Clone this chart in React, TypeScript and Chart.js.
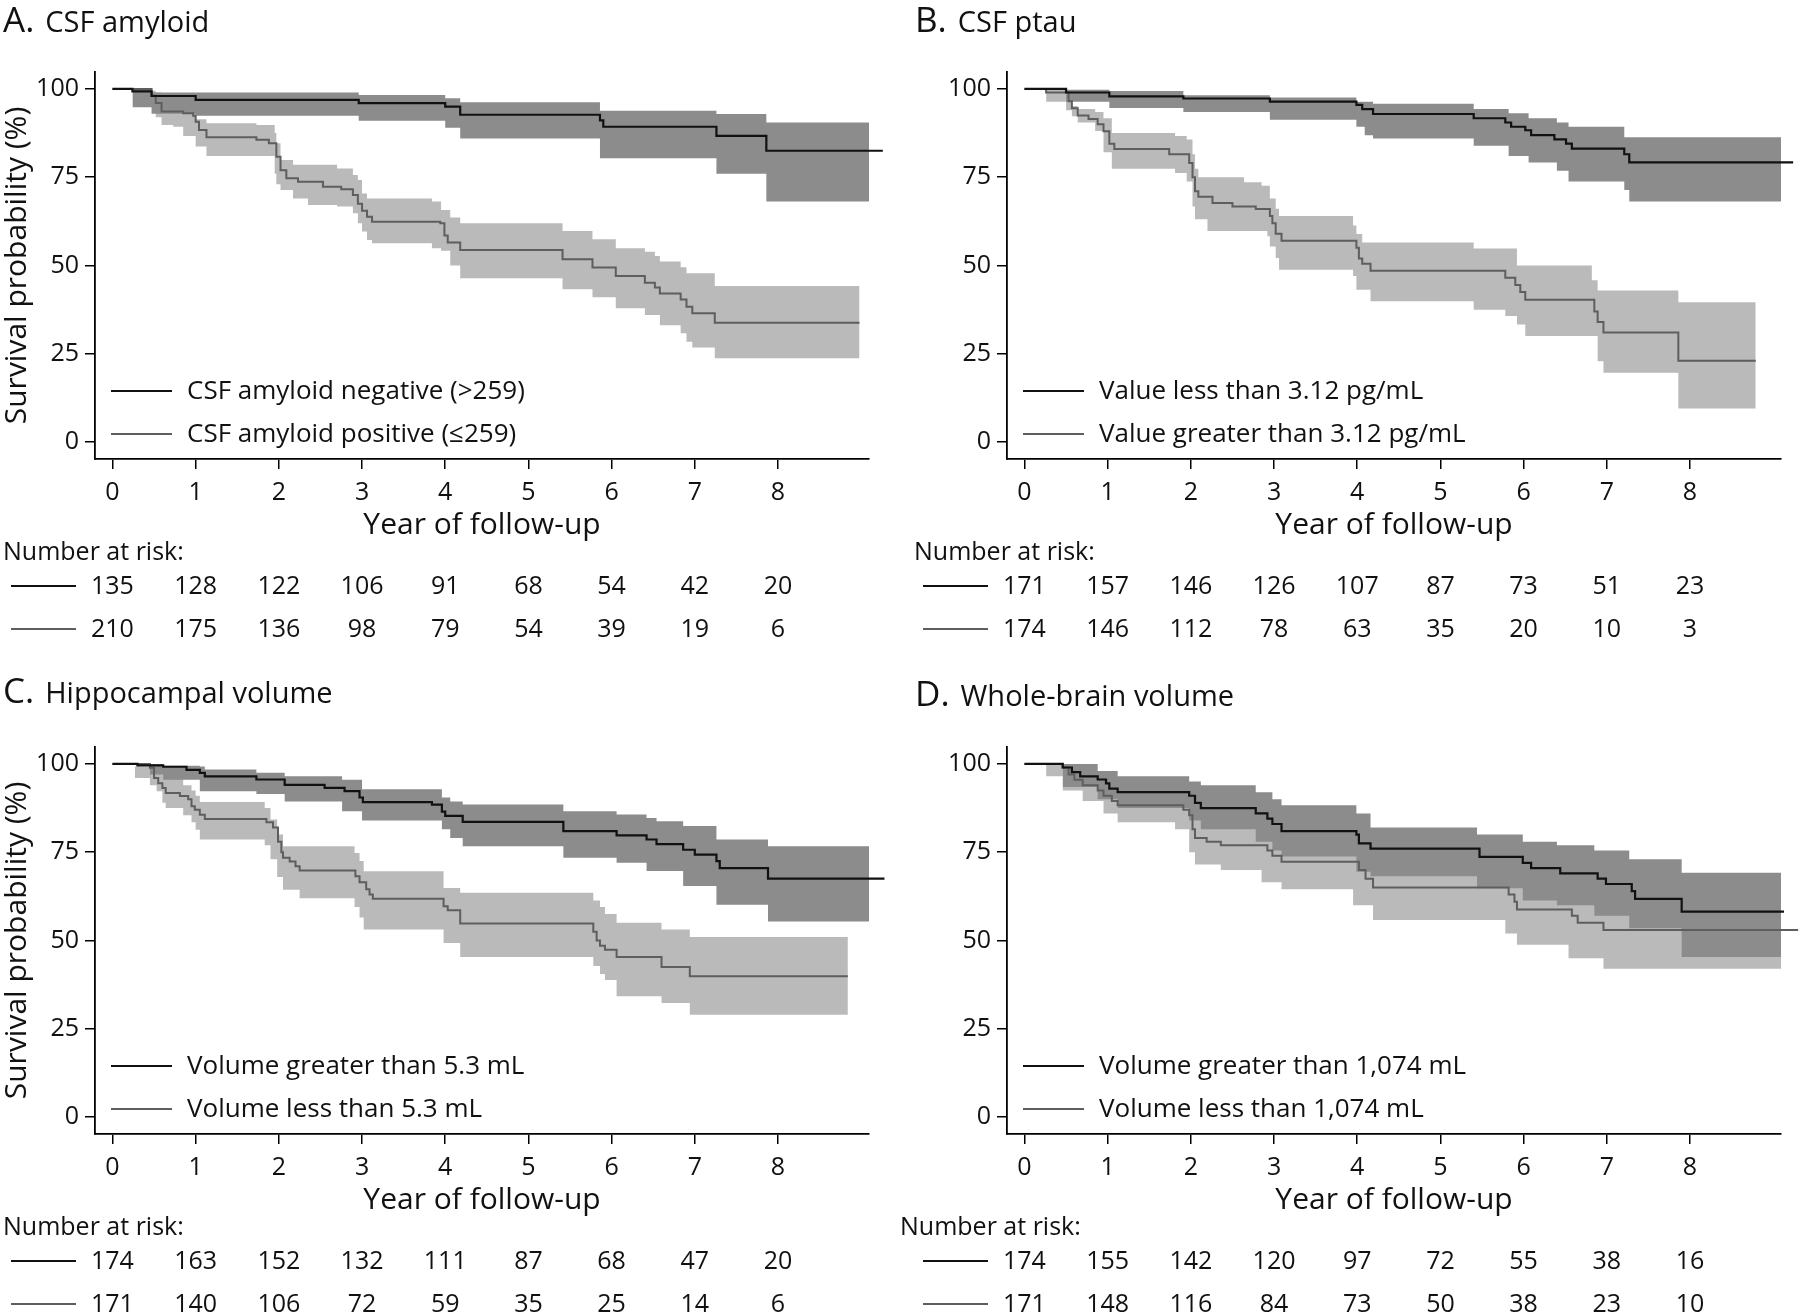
import React, { useEffect, useRef } from "react";
import { Chart, registerables } from "chart.js";
Chart.register(...registerables);

const FONT = "'Open Sans', 'Noto Sans', sans-serif";

const X_TICKS = [0, 1, 2, 3, 4, 5, 6, 7, 8];
const Y_TICKS = [0, 25, 50, 75, 100];

// ---------- Panel A: CSF amyloid ----------
const A_DARK_LINE = [[0,100],[0.24,99.3],[0.47,98.0],[1.0,96.9],[2.96,96.0],[4.0,95.0],[4.18,92.7],[5.86,91.1],[5.9,89.3],[7.26,86.7],[7.86,82.5],[9.26,82.5]];
const A_DARK_BAND = [[0.24,94.8,100],[0.47,93.0,99.0],[1.0,92.4,99.0],[2.96,91.0,98.3],[4.0,89.0,97.4],[4.18,86.0,96.2],[5.86,80.4,93.8],[7.26,76.0,92.9],[7.86,68.1,90.5],[9.26,68.1,90.5]];
const A_LIGHT_LINE = [[0,100],[0.47,98.1],[0.52,96.0],[0.59,93.6],[0.85,93.1],[0.97,92.4],[1.0,90.7],[1.04,88.4],[1.13,86.3],[1.73,85.6],[1.88,84.6],[1.97,80.8],[2.02,77.0],[2.09,74.7],[2.23,73.7],[2.53,72.3],[2.75,71.6],[2.89,70.0],[2.95,67.5],[3.0,65.5],[3.06,63.8],[3.12,62.4],[3.94,62.0],[3.99,58.5],[4.03,56.5],[4.18,54.4],[5.41,51.8],[5.77,49.4],[6.05,47.0],[6.4,45.1],[6.52,43.8],[6.58,42.1],[6.83,40.4],[6.9,38.3],[6.97,36.5],[7.24,33.8],[8.98,33.8]];
const A_LIGHT_BAND = [[0.47,94.5,99.5],[0.52,92.0,99.0],[0.59,89.8,97.5],[0.73,89.3,97.0],[0.85,86.7,96.5],[1.0,83.7,91.4],[1.13,81.0,90.3],[1.73,81.0,89.8],[1.95,76.0,87.5],[1.97,73.0,84.6],[2.02,71.4,79.9],[2.17,69.0,78.5],[2.35,67.1,78.5],[2.7,66.7,77.5],[2.89,64.8,75.6],[2.95,62.0,74.2],[3.0,59.6,70.4],[3.06,57.2,69.0],[3.12,56.3,69.0],[3.84,54.9,68.1],[3.95,54.2,65.7],[4.06,50.0,63.6],[4.18,46.4,62.0],[5.41,43.3,59.8],[5.77,41.0,57.4],[6.05,37.9,54.9],[6.4,36.0,53.9],[6.52,36.0,52.7],[6.58,33.1,51.1],[6.83,30.8,49.5],[6.9,28.4,47.8],[6.97,26.8,47.8],[7.24,23.7,44.2],[8.98,23.7,44.2]];
const A_RISK_DARK = [135, 128, 122, 106, 91, 68, 54, 42, 20];
const A_RISK_LIGHT = [210, 175, 136, 98, 79, 54, 39, 19, 6];

// ---------- Panel B: CSF ptau ----------
const B_DARK_LINE = [[0,100],[0.5,99.0],[1.02,97.9],[1.91,97.3],[2.95,96.4],[3.99,95.5],[4.06,94.3],[4.19,92.9],[5.4,91.7],[5.78,90.5],[5.85,89.3],[6.02,88.3],[6.09,86.9],[6.37,85.7],[6.51,84.5],[6.58,83.1],[7.21,81.5],[7.27,79.2],[9.24,79.2]];
const B_DARK_BAND = [[0.5,96.4,99.8],[1.02,94.6,99.4],[1.91,93.5,98.2],[2.95,91.3,97.6],[3.99,89.3,96.4],[4.09,86.9,96.4],[4.19,86.0,95.8],[5.4,83.9,94.3],[5.82,81.0,93.1],[6.06,79.2,91.7],[6.4,76.8,90.5],[6.54,73.8,89.3],[7.21,71.4,86.3],[7.27,68.1,86.3],[9.24,68.1,86.3]];
const B_LIGHT_LINE = [[0,100],[0.26,99.0],[0.53,96.5],[0.57,94.5],[0.64,92.5],[0.77,91.5],[0.88,90.0],[0.95,88.0],[1.02,84.5],[1.08,83.0],[1.74,81.5],[1.98,79.0],[2.02,75.0],[2.05,71.0],[2.09,69.5],[2.26,67.7],[2.5,66.7],[2.78,66.0],[2.95,64.0],[2.98,62.0],[3.02,59.0],[3.09,57.0],[3.99,55.0],[4.02,52.0],[4.06,50.5],[4.16,48.5],[5.78,46.5],[5.9,44.5],[5.96,42.5],[6.02,40.3],[6.85,37.0],[6.89,34.0],[6.96,31.0],[7.86,23.0],[8.79,23.0]];
const B_LIGHT_BAND = [[0.26,96.4,100],[0.5,94.0,98.2],[0.57,92.3,95.2],[0.64,90.5,94.3],[0.85,88.1,93.5],[0.95,82.1,91.7],[1.05,77.4,87.5],[1.81,76.2,86.7],[1.95,73.8,85.7],[2.02,66.7,81.5],[2.05,63.1,77.4],[2.09,63.1,75.0],[2.2,59.8,75.0],[2.64,59.8,73.6],[2.85,59.8,72.6],[2.92,58.3,72.6],[2.95,55.4,69.0],[3.02,52.1,66.1],[3.06,48.8,64.0],[3.95,47.0,61.3],[3.99,43.1,58.9],[4.06,43.1,56.5],[4.16,39.9,56.5],[5.4,37.5,54.8],[5.78,35.7,54.8],[5.92,33.3,50.0],[6.02,30.0,50.0],[6.82,30.0,45.8],[6.89,22.9,42.9],[6.96,19.6,42.9],[7.86,9.5,39.6],[8.79,9.5,39.6]];
const B_RISK_DARK = [171, 157, 146, 126, 107, 87, 73, 51, 23];
const B_RISK_LIGHT = [174, 146, 112, 78, 63, 35, 20, 10, 3];

// ---------- Panel C: Hippocampal volume ----------
const C_DARK_LINE = [[0,100],[0.3,99.6],[0.61,99.2],[0.89,98.3],[1.05,97.5],[1.11,96.5],[1.73,95.6],[2.07,94.1],[2.55,93.2],[2.79,92.3],[2.97,90.5],[3.01,89.2],[3.84,88.5],[3.96,86.5],[4.0,85.3],[4.21,83.6],[5.42,81.0],[6.06,79.8],[6.42,78.6],[6.54,77.3],[6.86,75.7],[7.0,74.3],[7.26,72.5],[7.3,70.5],[7.88,67.5],[9.28,67.5]];
const C_DARK_BAND = [[0.45,97.0,100],[0.61,95.5,99.5],[1.05,92.3,99.3],[1.11,92.3,98.4],[1.73,91.5,97.5],[2.07,89.4,96.5],[2.76,86.6,95.5],[3.0,84.0,92.8],[3.96,81.5,90.5],[4.06,79.0,89.4],[4.21,76.7,88.5],[5.42,73.4,86.6],[6.06,72.0,85.7],[6.42,69.7,84.7],[6.54,69.7,83.8],[6.86,65.4,82.4],[7.26,60.1,78.6],[7.88,55.4,76.7],[9.28,55.4,76.7]];
const C_LIGHT_LINE = [[0,100],[0.45,98.9],[0.5,96.0],[0.55,94.5],[0.6,93.2],[0.64,91.8],[0.81,90.9],[0.91,90.0],[0.95,88.0],[0.99,87.0],[1.05,85.6],[1.11,84.4],[1.85,83.5],[1.93,82.0],[1.99,78.0],[2.03,75.0],[2.05,73.4],[2.13,72.4],[2.2,71.0],[2.25,69.8],[2.92,68.2],[2.97,66.5],[3.05,64.5],[3.09,63.0],[3.13,61.8],[3.98,59.7],[4.03,58.6],[4.18,54.8],[5.78,52.5],[5.82,50.0],[5.86,48.5],[5.92,47.4],[6.06,45.3],[6.6,42.5],[6.94,39.9],[8.84,39.9]];
const C_LIGHT_BAND = [[0.27,96.0,99.3],[0.45,94.0,99.0],[0.53,92.3,98.5],[0.6,89.0,97.0],[0.64,87.5,96.0],[0.85,85.5,94.0],[0.95,83.5,92.5],[1.0,81.4,91.0],[1.05,78.6,89.2],[1.83,77.0,87.5],[1.9,73.0,84.3],[1.98,68.0,80.0],[2.05,64.4,76.7],[2.25,62.0,76.7],[2.91,59.5,74.8],[2.97,56.5,72.5],[3.02,53.1,69.6],[3.98,49.3,64.9],[4.18,45.3,63.5],[5.78,42.8,61.3],[5.86,40.5,59.5],[5.92,38.8,57.5],[6.06,34.2,55.0],[6.6,32.3,53.1],[6.94,29.0,51.0],[8.84,29.0,51.0]];
const C_RISK_DARK = [174, 163, 152, 132, 111, 87, 68, 47, 20];
const C_RISK_LIGHT = [171, 140, 106, 72, 59, 35, 25, 14, 6];

// ---------- Panel D: Whole-brain volume ----------
const D_DARK_LINE = [[0,100],[0.46,99.0],[0.57,97.7],[0.67,96.5],[0.88,95.6],[0.98,94.5],[1.02,93.0],[1.12,92.0],[1.98,91.0],[2.05,89.0],[2.12,87.5],[2.78,86.0],[2.92,84.5],[2.98,83.0],[3.09,81.0],[3.99,80.0],[4.02,77.5],[4.16,76.0],[5.47,73.7],[5.99,72.0],[6.09,70.5],[6.44,69.0],[6.89,67.5],[6.99,66.0],[7.3,64.0],[7.34,61.8],[7.9,58.2],[9.13,58.2]];
const D_DARK_BAND = [[0.46,93.5,100],[0.88,90.0,98.0],[1.12,87.5,96.5],[1.98,84.0,95.0],[2.12,81.5,94.0],[2.78,78.0,92.0],[2.98,75.5,90.0],[3.09,73.8,88.3],[3.99,69.5,86.0],[4.16,68.2,82.0],[5.44,64.8,80.0],[5.99,61.3,78.0],[6.4,60.0,77.0],[6.85,57.0,75.5],[7.27,53.5,73.0],[7.9,45.3,69.2],[9.13,45.3,69.2]];
const D_LIGHT_LINE = [[0,100],[0.46,99.0],[0.53,97.0],[0.6,95.5],[0.7,94.0],[0.88,92.5],[0.95,91.0],[1.05,89.5],[1.12,88.3],[1.91,87.0],[1.98,85.5],[2.02,81.5],[2.05,79.0],[2.19,78.0],[2.36,77.0],[2.92,75.5],[2.98,74.0],[3.09,72.3],[4.02,70.0],[4.1,67.5],[4.19,65.0],[5.82,63.0],[5.89,61.0],[5.92,58.8],[6.58,57.0],[6.65,55.0],[6.96,53.0],[9.3,53.0]];
const D_LIGHT_BAND = [[0.26,96.5,100],[0.46,92.5,99.5],[0.7,89.5,98.0],[0.95,86.0,96.0],[1.12,83.5,94.0],[1.81,81.5,92.5],[1.98,75.0,88.0],[2.05,71.5,85.5],[2.36,70.0,84.0],[2.85,66.5,81.0],[3.09,64.5,79.5],[3.95,60.0,77.0],[4.19,55.8,74.0],[5.78,52.0,72.0],[5.92,48.8,69.0],[6.54,45.0,67.0],[6.96,42.0,62.5],[9.3,42.0,62.5]];
const D_RISK_DARK = [174, 155, 142, 120, 97, 72, 55, 38, 16];
const D_RISK_LIGHT = [171, 148, 116, 84, 73, 50, 38, 23, 10];

const DARK_LINE_COLOR = "#111111";
const LIGHT_LINE_COLOR = "#5e5e5e";
const DARK_BAND_COLOR = "rgb(140,140,140)";
const LIGHT_BAND_COLOR = "rgb(186,186,186)";

type PanelDef = {
  letter: string;
  title: string;
  legend: string[];
  yTitle: boolean;
  left: number;
  top: number;
  width: number;
  height: number;
  dx: number;
  riskX: number;
  titleDy: number;
  darkLine: number[][];
  darkBand: number[][];
  lightLine: number[][];
  lightBand: number[][];
  riskDark: number[];
  riskLight: number[];
};

const PANELS: PanelDef[] = [
  {
    letter: "A.", title: "CSF amyloid",
    legend: ["CSF amyloid negative (>259)", "CSF amyloid positive (\u2264259)"],
    yTitle: true, left: 0, top: 0, width: 890, height: 675, dx: 0, riskX: 3, titleDy: 0,
    darkLine: A_DARK_LINE, darkBand: A_DARK_BAND, lightLine: A_LIGHT_LINE, lightBand: A_LIGHT_BAND,
    riskDark: A_RISK_DARK, riskLight: A_RISK_LIGHT,
  },
  {
    letter: "B.", title: "CSF ptau",
    legend: ["Value less than 3.12 pg/mL", "Value greater than 3.12 pg/mL"],
    yTitle: false, left: 890, top: 0, width: 910, height: 675, dx: 22, riskX: 24, titleDy: 0,
    darkLine: B_DARK_LINE, darkBand: B_DARK_BAND, lightLine: B_LIGHT_LINE, lightBand: B_LIGHT_BAND,
    riskDark: B_RISK_DARK, riskLight: B_RISK_LIGHT,
  },
  {
    letter: "C.", title: "Hippocampal volume",
    legend: ["Volume greater than 5.3 mL", "Volume less than 5.3 mL"],
    yTitle: true, left: 0, top: 675, width: 890, height: 638, dx: 0, riskX: 3, titleDy: -4,
    darkLine: C_DARK_LINE, darkBand: C_DARK_BAND, lightLine: C_LIGHT_LINE, lightBand: C_LIGHT_BAND,
    riskDark: C_RISK_DARK, riskLight: C_RISK_LIGHT,
  },
  {
    letter: "D.", title: "Whole-brain volume",
    legend: ["Volume greater than 1,074 mL", "Volume less than 1,074 mL"],
    yTitle: false, left: 890, top: 675, width: 910, height: 638, dx: 22, riskX: 10, titleDy: -1,
    darkLine: D_DARK_LINE, darkBand: D_DARK_BAND, lightLine: D_LIGHT_LINE, lightBand: D_LIGHT_BAND,
    riskDark: D_RISK_DARK, riskLight: D_RISK_LIGHT,
  },
];

const X_MIN = -0.21;
const X_MAX = 9.094;
const Y_MIN = -4.8;
const Y_MAX = 104.8;

const overlayPlugin = {
  id: "kmOverlay",
  afterDraw(chart: any, _args: any, opts: any) {
    const p: PanelDef = opts.panel;
    if (!p) return;
    const ctx = chart.ctx;
    const xs = chart.scales.x;
    const area = chart.chartArea;
    const dx = p.dx;
    ctx.save();
    ctx.fillStyle = "#111";
    // Panel title
    ctx.textAlign = "left";
    ctx.textBaseline = "alphabetic";
    ctx.font = `35px ${FONT}`;
    ctx.fillText(p.letter, 3 + dx, 32 + p.titleDy);
    const lw = ctx.measureText(p.letter).width;
    ctx.font = `29px ${FONT}`;
    ctx.fillText(p.title, 3 + dx + lw + 11, 32 + p.titleDy);

    // Axis titles
    ctx.font = `30px ${FONT}`;
    ctx.textAlign = "center";
    ctx.textBaseline = "middle";
    ctx.fillText("Year of follow-up", (area.left + area.right) / 2, 525);
    if (p.yTitle) {
      ctx.save();
      ctx.translate(17, (area.top + area.bottom) / 2);
      ctx.rotate(-Math.PI / 2);
      ctx.fillText("Survival probability (%)", 0, 0);
      ctx.restore();
    }

    // Legend inside plot
    const legY = [391, 434];
    const legCol = [DARK_LINE_COLOR, LIGHT_LINE_COLOR];
    ctx.font = `26px ${FONT}`;
    ctx.textAlign = "left";
    p.legend.forEach((label, i) => {
      ctx.strokeStyle = legCol[i];
      ctx.lineWidth = 2;
      ctx.beginPath();
      ctx.moveTo(111 + dx, legY[i]);
      ctx.lineTo(172 + dx, legY[i]);
      ctx.stroke();
      ctx.fillStyle = "#111";
      ctx.fillText(label, 187 + dx, legY[i] + 1);
    });

    // Number at risk table
    ctx.font = `25px ${FONT}`;
    ctx.textAlign = "left";
    ctx.fillText("Number at risk:", p.riskX, 553);
    const rows = [p.riskDark, p.riskLight];
    const rowY = [586, 629];
    rows.forEach((vals, r) => {
      ctx.strokeStyle = legCol[r];
      ctx.lineWidth = 2;
      ctx.beginPath();
      ctx.moveTo(11 + dx, rowY[r]);
      ctx.lineTo(76 + dx, rowY[r]);
      ctx.stroke();
      ctx.fillStyle = "#111";
      ctx.textAlign = "center";
      vals.forEach((v, k) => {
        ctx.fillText(String(v), xs.getPixelForValue(X_TICKS[k]), rowY[r] + 1);
      });
    });
    ctx.restore();
  },
};

function toPts(arr: number[][], col: number) {
  return arr.map((r) => ({ x: r[0], y: r[col] }));
}

function KMPanel({ p }: { p: PanelDef }) {
  const ref = useRef<HTMLCanvasElement | null>(null);
  useEffect(() => {
    if (!ref.current) return;
    const baseLine = {
      pointRadius: 0,
      pointHoverRadius: 0,
      stepped: true,
      clip: false as any,
      tension: 0,
    };
    const datasets: any[] = [
      { ...baseLine, label: "lightLo", data: toPts(p.lightBand, 1), borderWidth: 0, borderColor: "rgba(0,0,0,0)", fill: false, order: 6 },
      { ...baseLine, label: "lightHi", data: toPts(p.lightBand, 2), borderWidth: 0, borderColor: "rgba(0,0,0,0)", backgroundColor: LIGHT_BAND_COLOR, fill: { target: 0 }, order: 6 },
      { ...baseLine, label: "darkLo", data: toPts(p.darkBand, 1), borderWidth: 0, borderColor: "rgba(0,0,0,0)", fill: false, order: 4 },
      { ...baseLine, label: "darkHi", data: toPts(p.darkBand, 2), borderWidth: 0, borderColor: "rgba(0,0,0,0)", backgroundColor: DARK_BAND_COLOR, fill: { target: 2 }, order: 4 },
      { ...baseLine, label: "lightLine", data: toPts(p.lightLine, 1), borderWidth: 2, borderColor: LIGHT_LINE_COLOR, fill: false, order: 2 },
      { ...baseLine, label: "darkLine", data: toPts(p.darkLine, 1), borderWidth: 2.2, borderColor: DARK_LINE_COLOR, fill: false, order: 1 },
    ];
    const tickFont = { family: FONT, size: 25 };
    const chart = new Chart(ref.current, {
      type: "line",
      data: { datasets },
      options: {
        animation: false,
        responsive: false,
        events: [],
        layout: {
          padding: { left: p.dx, top: 72, right: p.width - (869 + p.dx), bottom: 0 },
        },
        plugins: {
          legend: { display: false },
          tooltip: { enabled: false },
          title: { display: false },
          kmOverlay: { panel: p },
        } as any,
        scales: {
          x: {
            type: "linear",
            min: X_MIN,
            max: X_MAX,
            afterBuildTicks: (axis: any) => {
              axis.ticks = X_TICKS.map((v) => ({ value: v }));
            },
            afterFit: (s: any) => {
              s.height = p.height - 459;
            },
            ticks: { font: tickFont, color: "#111", padding: 9, maxRotation: 0, autoSkip: false },
            grid: { drawOnChartArea: false, drawTicks: true, tickLength: 10, color: "#000", lineWidth: 1.5 },
            border: { display: true, color: "#000", width: 1.8 },
          },
          y: {
            type: "linear",
            min: Y_MIN,
            max: Y_MAX,
            afterBuildTicks: (axis: any) => {
              axis.ticks = Y_TICKS.map((v) => ({ value: v }));
            },
            afterFit: (s: any) => {
              s.width = 95;
            },
            ticks: { font: tickFont, color: "#111", padding: 6, autoSkip: false },
            grid: { drawOnChartArea: false, drawTicks: true, tickLength: 10, color: "#000", lineWidth: 1.5 },
            border: { display: true, color: "#000", width: 1.8 },
          },
        },
      } as any,
      plugins: [overlayPlugin as any],
    });
    return () => chart.destroy();
  }, [p]);
  return (
    <div style={{ position: "absolute", left: p.left, top: p.top, width: p.width, height: p.height }}>
      <canvas ref={ref} width={p.width} height={p.height} style={{ display: "block", width: p.width, height: p.height }} />
    </div>
  );
}

export default function App() {
  return (
    <div style={{ position: "absolute", left: 0, top: 0, width: 1800, height: 1313, background: "#fff", overflow: "hidden" }}>
      {PANELS.map((p) => (
        <KMPanel key={p.letter} p={p} />
      ))}
    </div>
  );
}
